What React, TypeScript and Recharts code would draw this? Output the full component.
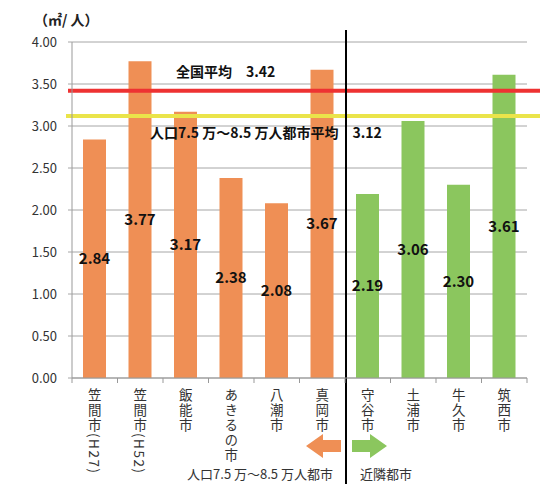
import {
  BarChart,
  Bar,
  Cell,
  XAxis,
  YAxis,
  CartesianGrid,
  ReferenceLine,
  LabelList,
} from "recharts";

const CITIES = [
  "笠間市(H27)",
  "笠間市(H52)",
  "飯能市",
  "あきるの市",
  "八潮市",
  "真岡市",
  "守谷市",
  "土浦市",
  "牛久市",
  "筑西市",
];
const AREA_PER_PERSON = [2.84, 3.77, 3.17, 2.38, 2.08, 3.67, 2.19, 3.06, 2.3, 3.61];
const GROUP = ["same", "same", "same", "same", "same", "same", "near", "near", "near", "near"];
const Y_TICKS = [0, 0.5, 1, 1.5, 2, 2.5, 3, 3.5, 4];

const NATIONAL_AVG = 3.42;
const SIMILAR_AVG = 3.12;
const SAME_SIZE_LABEL = "人口7.5 万～8.5 万人都市";
const NEAR_LABEL = "近隣都市";
const FIRST_NEAR_CITY = "守谷市";

const ORANGE = "#EF8F55";
const GREEN = "#8BC65E";
const FONT = "'Noto Sans CJK JP', 'Noto Sans', sans-serif";

const data = CITIES.map((name, i) => ({
  name,
  value: AREA_PER_PERSON[i],
  group: GROUP[i],
}));

function CityTick(props: any) {
  const { x, y, payload } = props;
  const half = payload.offset ?? 22.75;
  const label: string = payload.value;
  const isLast = label === CITIES[CITIES.length - 1];
  const axisY = y - 8;
  return (
    <g>
      <line x1={x - half} y1={axisY} x2={x - half} y2={axisY + 5} stroke="#999" />
      {isLast && (
        <line x1={x + half} y1={axisY} x2={x + half} y2={axisY + 5} stroke="#999" />
      )}
      <text
        x={x}
        y={axisY + 10}
        fontSize={13.5}
        fontFamily={FONT}
        fill="#333"
        style={{ writingMode: "vertical-rl", letterSpacing: 1.5 } as any}
      >
        {label}
      </text>
    </g>
  );
}

function NationalLine(props: any) {
  const { x1, y1 } = props;
  return (
    <g>
      <line x1={x1 - 4} y1={y1} x2={540} y2={y1} stroke="#EE3232" strokeWidth={4} />
      <text
        x={x1 + 104}
        y={y1 - 14}
        fontSize={14}
        fontWeight="bold"
        fontFamily={FONT}
        fill="#111"
      >
        {`全国平均　${NATIONAL_AVG.toFixed(2)}`}
      </text>
    </g>
  );
}

function SimilarLine(props: any) {
  const { x1, y1 } = props;
  return (
    <g>
      <line x1={x1 - 6} y1={y1} x2={540} y2={y1} stroke="#EAE44A" strokeWidth={4} />
      <text
        x={x1 + 78}
        y={y1 + 22}
        fontSize={14}
        fontWeight="bold"
        fontFamily={FONT}
        fill="#111"
      >
        {`人口7.5 万～8.5 万人都市平均　${SIMILAR_AVG.toFixed(2)}`}
      </text>
    </g>
  );
}

function Divider(props: any) {
  const { x1 } = props;
  const x = x1 + 1;
  const ay = 446;
  return (
    <g>
      <line x1={x} y1={30} x2={x} y2={484} stroke="#000" strokeWidth={2} />
      <polygon
        points={`${x - 5},${ay - 6} ${x - 23},${ay - 6} ${x - 23},${ay - 12} ${x - 40},${ay} ${x - 23},${ay + 12} ${x - 23},${ay + 6} ${x - 5},${ay + 6}`}
        fill={ORANGE}
      />
      <polygon
        points={`${x + 6},${ay - 6} ${x + 24},${ay - 6} ${x + 24},${ay - 12} ${x + 41},${ay} ${x + 24},${ay + 12} ${x + 24},${ay + 6} ${x + 6},${ay + 6}`}
        fill={GREEN}
      />
      <text x={x - 13} y={479} textAnchor="end" fontSize={13} fontFamily={FONT} fill="#333">
        {SAME_SIZE_LABEL}
      </text>
      <text x={x + 14} y={479} fontSize={13} fontFamily={FONT} fill="#333">
        {NEAR_LABEL}
      </text>
    </g>
  );
}

export default function App() {
  return (
    <div
      style={{
        position: "absolute",
        left: 0,
        top: 0,
        width: 540,
        height: 484,
        background: "#fff",
        fontFamily: FONT,
      }}
    >
      <div
        style={{
          position: "absolute",
          left: 34,
          top: 9,
          fontSize: 14,
          color: "#222",
          fontWeight: 600,
        }}
      >
        （㎡/ 人）
      </div>
      <BarChart
        width={540}
        height={484}
        data={data}
        margin={{ top: 42, right: 13, bottom: 0, left: 12 }}
      >
        <CartesianGrid vertical={false} stroke="#a6a6a6" />
        <XAxis
          dataKey="name"
          interval={0}
          axisLine={{ stroke: "#999" }}
          tickLine={false}
          tick={<CityTick />}
          height={106}
        />
        <YAxis
          width={60}
          domain={[0, 4]}
          ticks={Y_TICKS}
          tickFormatter={(v: number) => v.toFixed(2)}
          axisLine={{ stroke: "#999" }}
          tickLine={{ stroke: "#a6a6a6" }}
          tickSize={4}
          tickMargin={11}
          tick={{ fontSize: 13, fill: "#333", fontFamily: FONT }}
        />
        <Bar dataKey="value" barSize={23} isAnimationActive={false}>
          {data.map((d, i) => (
            <Cell key={i} fill={d.group === "same" ? ORANGE : GREEN} />
          ))}
          <LabelList
            dataKey="value"
            position="center"
            formatter={(v: any) => Number(v).toFixed(2)}
            style={{ fontSize: 15, fontWeight: "bold", fill: "#111", fontFamily: FONT }}
          />
        </Bar>
        <ReferenceLine y={NATIONAL_AVG} ifOverflow="visible" shape={<NationalLine />} />
        <ReferenceLine y={SIMILAR_AVG} ifOverflow="visible" shape={<SimilarLine />} />
        <ReferenceLine
          x={FIRST_NEAR_CITY}
          position="start"
          ifOverflow="visible"
          shape={<Divider />}
        />
      </BarChart>
    </div>
  );
}
